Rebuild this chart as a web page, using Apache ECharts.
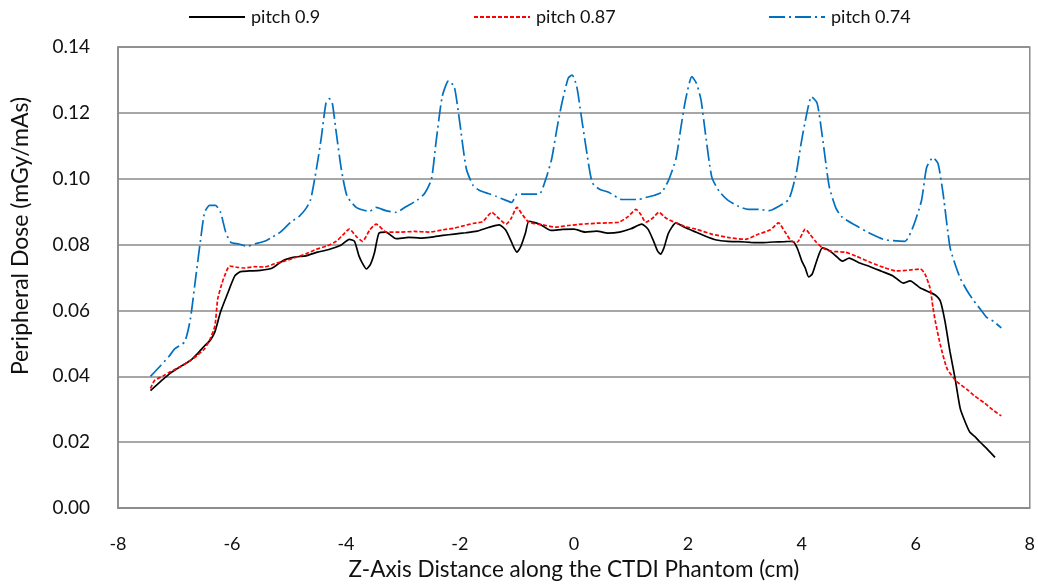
<!DOCTYPE html>
<html>
<head>
<meta charset="utf-8">
<script src="https://cdn.jsdelivr.net/npm/echarts@6/dist/echarts.min.js"></script>
<style>
  html, body { margin: 0; padding: 0; background: #fff; }
  #chart { width: 1038px; height: 586px; }
</style>
</head>
<body>
<div id="chart"></div>
<script>
// Peripheral dose profiles along the z-axis of the CTDI phantom, [distance cm, dose mGy/mAs]
const pitch09 = [
  [-7.43,0.0357],[-7.25,0.0385],[-7.08,0.041],[-6.9,0.043],[-6.73,0.0448],[-6.6,0.047],[-6.48,0.0493],
  [-6.38,0.051],[-6.3,0.0535],[-6.2,0.0596],[-6.08,0.065],[-5.95,0.0705],[-5.85,0.0718],[-5.7,0.072],
  [-5.5,0.0722],[-5.3,0.0728],[-5.1,0.0752],[-4.9,0.0762],[-4.7,0.0766],[-4.5,0.0777],[-4.3,0.0785],
  [-4.1,0.0797],[-3.94,0.0816],[-3.85,0.081],[-3.77,0.0765],[-3.7,0.074],[-3.64,0.0726],[-3.57,0.074],
  [-3.5,0.0775],[-3.42,0.0835],[-3.3,0.0838],[-3.12,0.0818],[-2.9,0.0822],[-2.7,0.082],[-2.5,0.0823],
  [-2.3,0.0828],[-2.1,0.0832],[-1.9,0.0836],[-1.7,0.0841],[-1.5,0.0852],[-1.31,0.086],[-1.2,0.0845],
  [-1.1,0.081],[-1.05,0.079],[-1.0,0.0777],[-0.93,0.0795],[-0.85,0.0835],[-0.79,0.0871],[-0.6,0.0862],
  [-0.4,0.0843],[-0.2,0.0846],[0,0.0847],[0.2,0.0838],[0.4,0.0841],[0.6,0.0835],[0.8,0.0838],[1.0,0.0848],
  [1.19,0.0862],[1.3,0.0847],[1.4,0.081],[1.47,0.078],[1.52,0.0771],[1.58,0.079],[1.66,0.0835],
  [1.79,0.0866],[1.95,0.0852],[2.1,0.0841],[2.3,0.0826],[2.5,0.0814],[2.7,0.081],[2.9,0.0809],
  [3.1,0.0807],[3.3,0.0806],[3.5,0.0808],[3.7,0.0809],[3.84,0.081],[3.92,0.0789],[4.0,0.075],
  [4.06,0.0729],[4.12,0.0702],[4.18,0.071],[4.25,0.0745],[4.36,0.079],[4.45,0.0785],[4.54,0.0774],
  [4.62,0.0762],[4.71,0.075],[4.83,0.0759],[5.0,0.0745],[5.2,0.0733],[5.4,0.0719],[5.6,0.0705],
  [5.78,0.0683],[5.9,0.069],[6.08,0.0668],[6.25,0.0655],[6.34,0.0647],[6.43,0.0629],[6.51,0.0569],
  [6.6,0.0475],[6.69,0.0393],[6.78,0.0302],[6.87,0.026],[6.95,0.023],[7.05,0.0215],[7.13,0.02],
  [7.25,0.018],[7.39,0.0154]
];

const pitch087 = [
  [-7.43,0.0363],[-7.36,0.0387],[-7.2,0.0402],[-7.08,0.0414],[-6.9,0.043],[-6.73,0.0448],[-6.6,0.0465],
  [-6.48,0.0484],[-6.38,0.0515],[-6.3,0.0553],[-6.25,0.0635],[-6.18,0.068],[-6.13,0.0705],[-6.04,0.0735],
  [-5.9,0.0731],[-5.78,0.0729],[-5.6,0.0733],[-5.43,0.0732],[-5.25,0.0742],[-5.08,0.075],[-4.9,0.076],
  [-4.7,0.0772],[-4.52,0.0786],[-4.35,0.0795],[-4.17,0.081],[-4.05,0.083],[-3.94,0.0847],[-3.82,0.0825],
  [-3.71,0.081],[-3.58,0.0845],[-3.47,0.0862],[-3.29,0.0838],[-3.06,0.0838],[-2.8,0.084],[-2.54,0.0838],
  [-2.3,0.0845],[-2.1,0.085],[-1.96,0.0856],[-1.75,0.0865],[-1.6,0.087],[-1.44,0.0898],[-1.32,0.088],
  [-1.19,0.0862],[-1.1,0.088],[-1.0,0.0913],[-0.9,0.089],[-0.79,0.0868],[-0.55,0.086],[-0.32,0.0853],
  [-0.1,0.0858],[0.14,0.0862],[0.4,0.0865],[0.6,0.0866],[0.79,0.0868],[0.95,0.0885],[1.09,0.0907],
  [1.18,0.089],[1.26,0.0868],[1.38,0.088],[1.49,0.0898],[1.62,0.088],[1.79,0.0866],[1.95,0.0855],
  [2.14,0.0847],[2.42,0.0832],[2.7,0.0822],[3.01,0.0816],[3.24,0.0832],[3.45,0.0845],[3.59,0.0866],
  [3.7,0.084],[3.82,0.081],[3.92,0.0808],[4.06,0.0847],[4.15,0.083],[4.24,0.081],[4.35,0.0792],
  [4.5,0.078],[4.76,0.0777],[4.95,0.0765],[5.22,0.0745],[5.45,0.073],[5.66,0.072],[5.9,0.0723],
  [6.08,0.0726],[6.16,0.0711],[6.25,0.0668],[6.3,0.061],[6.34,0.0569],[6.43,0.0496],[6.55,0.0423],
  [6.72,0.0384],[6.9,0.036],[7.02,0.0342],[7.2,0.032],[7.35,0.0298],[7.5,0.028]
];

const pitch074 = [
  [-7.43,0.040],[-7.25,0.0433],[-7.1,0.0462],[-7.0,0.0484],[-6.83,0.0505],[-6.73,0.0574],[-6.64,0.0695],
  [-6.55,0.0816],[-6.48,0.0898],[-6.39,0.0919],[-6.29,0.0919],[-6.2,0.0898],[-6.11,0.0838],[-6.02,0.0807],
  [-5.88,0.0802],[-5.73,0.0795],[-5.6,0.0802],[-5.43,0.081],[-5.3,0.0822],[-5.15,0.0838],[-4.97,0.0868],
  [-4.82,0.0886],[-4.7,0.091],[-4.62,0.0937],[-4.55,0.0998],[-4.48,0.107],[-4.43,0.1128],[-4.35,0.123],
  [-4.29,0.1243],[-4.24,0.123],[-4.17,0.114],[-4.08,0.1028],[-3.98,0.0947],[-3.82,0.0913],[-3.7,0.0905],
  [-3.59,0.0901],[-3.47,0.0913],[-3.3,0.0903],[-3.12,0.0898],[-2.94,0.0916],[-2.75,0.0935],[-2.62,0.0955],
  [-2.5,0.0998],[-2.42,0.111],[-2.31,0.125],[-2.2,0.1297],[-2.1,0.128],[-2.01,0.118],[-1.89,0.1032],
  [-1.77,0.098],[-1.66,0.0965],[-1.5,0.0955],[-1.37,0.0947],[-1.2,0.0935],[-1.09,0.0928],[-1.0,0.0953],
  [-0.8,0.0953],[-0.61,0.0953],[-0.5,0.0995],[-0.39,0.106],[-0.3,0.115],[-0.21,0.123],[-0.1,0.1305],
  [-0.03,0.1315],[0.05,0.128],[0.13,0.119],[0.21,0.1098],[0.32,0.0989],[0.45,0.0968],[0.61,0.0959],
  [0.84,0.0937],[1.0,0.0937],[1.14,0.0937],[1.26,0.0943],[1.42,0.095],[1.54,0.0959],[1.66,0.0995],
  [1.79,0.106],[1.88,0.1158],[1.96,0.124],[2.07,0.131],[2.15,0.129],[2.23,0.124],[2.31,0.1135],
  [2.42,0.1005],[2.55,0.0962],[2.7,0.0935],[2.89,0.0916],[3.06,0.0907],[3.25,0.0907],[3.42,0.0903],
  [3.59,0.0916],[3.77,0.0937],[3.9,0.1015],[3.98,0.11],[4.06,0.1175],[4.17,0.1249],[4.27,0.1228],
  [4.36,0.1128],[4.48,0.0977],[4.6,0.091],[4.71,0.0883],[5.0,0.0853],[5.22,0.0832],[5.43,0.0816],
  [5.6,0.0812],[5.81,0.081],[5.95,0.0853],[6.1,0.0934],[6.19,0.1034],[6.3,0.1064],[6.39,0.1046],
  [6.48,0.0953],[6.6,0.0792],[6.7,0.0735],[6.78,0.0698],[6.9,0.066],[7.02,0.0629],[7.15,0.06],
  [7.25,0.0578],[7.37,0.0566],[7.5,0.0547]
];

const seriesNames = ['pitch 0.9', 'pitch 0.87', 'pitch 0.74'];
const xTitle = 'Z-Axis Distance along the CTDI Phantom (cm)';
const yTitle = 'Peripheral Dose (mGy/mAs)';

const FONT = 'Lato, "Open Sans", sans-serif';
const chart = echarts.init(document.getElementById('chart'), null, { renderer: 'canvas' });

function legendAt(name, left) {
  return {
    data: [name], left: left, top: 8, padding: 0,
    itemWidth: 56, itemHeight: 12, itemGap: 0,
    itemStyle: { opacity: 0 },
    textStyle: { fontFamily: FONT, fontSize: 18, color: '#111', padding: [0, 0, 0, 1] },
    selectedMode: false
  };
}

chart.setOption({
  animation: false,
  backgroundColor: '#fff',
  legend: [legendAt(seriesNames[0], 188), legendAt(seriesNames[1], 473), legendAt(seriesNames[2], 768)],
  grid: { left: 118, right: 7, top: 47, bottom: 76, show: true, borderColor: '#8a8a8a', borderWidth: 1.5 },
  xAxis: {
    type: 'value', min: -8, max: 8, interval: 2,
    name: xTitle, nameLocation: 'middle', nameGap: 48,
    nameTextStyle: { fontFamily: FONT, fontSize: 22.5, color: '#111' },
    axisLine: { onZero: false, lineStyle: { color: '#8a8a8a', width: 1.5 } },
    axisTick: { show: false },
    splitLine: { show: false },
    axisLabel: { fontFamily: FONT, fontSize: 18, color: '#111', margin: 27 }
  },
  yAxis: {
    type: 'value', min: 0, max: 0.14, interval: 0.02,
    axisLine: { show: true, onZero: false, lineStyle: { color: '#8a8a8a', width: 1.5 } },
    axisTick: { show: false },
    splitLine: { lineStyle: { color: '#8a8a8a', width: 1.5 } },
    axisLabel: { fontFamily: FONT, fontSize: 19, color: '#111', margin: 28,
      formatter: v => v.toFixed(2) }
  },
  graphic: [{
    type: 'text', x: 21, y: 236, rotation: Math.PI / 2,
    style: { text: yTitle, fontFamily: FONT, fontSize: 23, fill: '#111',
      align: 'center', verticalAlign: 'middle' }
  }],
  series: [
    { name: seriesNames[0], type: 'line', data: pitch09, symbol: 'none', smooth: 0.2,
      lineStyle: { color: '#000', width: 1.7 }, itemStyle: { color: '#000' }, z: 3 },
    { name: seriesNames[1], type: 'line', data: pitch087, symbol: 'none', smooth: 0.2,
      lineStyle: { color: '#ff0000', width: 1.7, type: [4, 2] }, itemStyle: { color: '#ff0000' }, z: 4 },
    { name: seriesNames[2], type: 'line', data: pitch074, symbol: 'none', smooth: 0.2,
      lineStyle: { color: '#0070c0', width: 1.7, type: [16, 4, 2, 4] }, itemStyle: { color: '#0070c0' }, z: 2 }
  ]
});
</script>
</body>
</html>
